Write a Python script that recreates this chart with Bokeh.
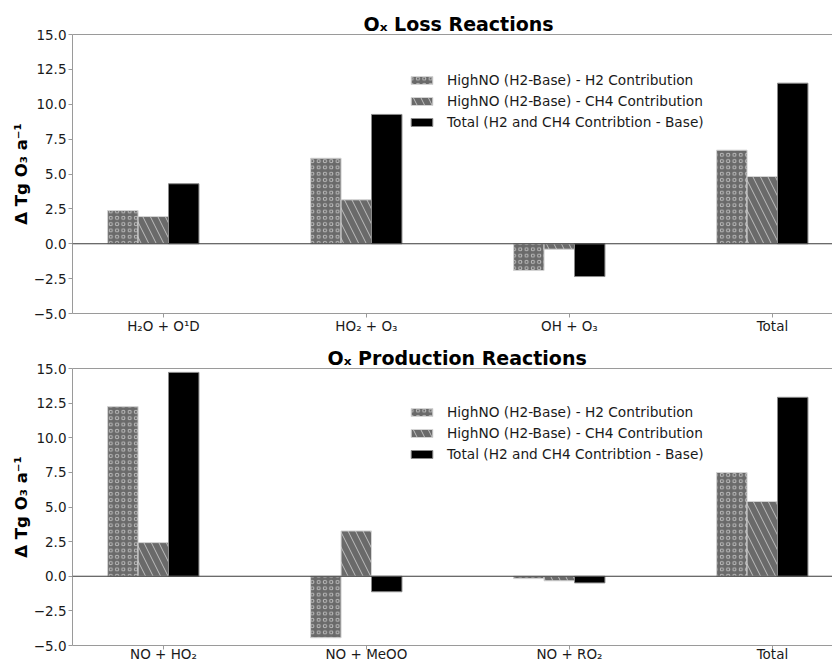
from bokeh.plotting import figure
from bokeh.layouts import column
from bokeh.models import FixedTicker, LinearAxis, Range1d, Span, Legend, LegendItem
from bokeh.embed import file_html
from bokeh.resources import INLINE

# ---- data (Tg O3 per year) ----
loss_reactions = ["H₂O + O¹D", "HO₂ + O₃", "OH + O₃", "Total"]
loss_h2 = [2.38, 6.13, -1.92, 6.71]
loss_ch4 = [1.95, 3.15, -0.39, 4.82]
loss_total = [4.30, 9.27, -2.35, 11.51]

prod_reactions = ["NO + HO₂", "NO + MeOO", "NO + RO₂", "Total"]
prod_h2 = [12.25, -4.44, -0.17, 7.49]
prod_ch4 = [2.43, 3.27, -0.33, 5.40]
prod_total = [14.72, -1.12, -0.48, 12.92]

series_labels = [
    "HighNO (H2-Base) - H2 Contribution",
    "HighNO (H2-Base) - CH4 Contribution",
    "Total (H2 and CH4 Contribtion - Base)",
]

y_ticks = [-5, -2.5, 0, 2.5, 5, 7.5, 10, 12.5, 15]
y_tick_labels = ["−5.0", "−2.5", "0.0", "2.5", "5.0", "7.5", "10.0", "12.5", "15.0"]

FONT = "DejaVu Sans"
SPINE = "#9a9a9a"
TEXT = "#1a1a1a"
BAR_FILL = "#6a6a6a"
BAR_W = 0.15
OFFSETS = [-0.2, -0.05, 0.1]
Y_MIN, Y_MAX = -5, 15


def make_panel(title, title_offset, reactions, h2, ch4, total, height, top_border,
               bottom_border, label_standoff):
    p = figure(
        width=832, height=height,
        x_range=Range1d(-0.448, 3.296), y_range=Range1d(Y_MIN, Y_MAX),
        output_backend="svg", toolbar_location=None,
        min_border_left=72, min_border_right=0,
        min_border_top=top_border, min_border_bottom=bottom_border,
        outline_line_color=None,
    )
    p.xgrid.visible = False
    p.ygrid.visible = False

    p.title.text = title
    p.title.text_font = FONT
    p.title.text_font_size = "19px"
    p.title.text_font_style = "bold"
    p.title.text_color = "black"
    p.title.align = "left"
    p.title.offset = title_offset
    p.title.standoff = 0

    idx = list(range(len(reactions)))
    xs = [[i + off for i in idx] for off in OFFSETS]

    r_h2 = p.vbar(x=xs[0], top=h2, bottom=0, width=BAR_W,
                  fill_color=BAR_FILL, line_color="#d4d4d4", line_width=1,
                  hatch_pattern="o", hatch_color="#bdbdbd", hatch_scale=6.3, hatch_weight=1)
    r_ch4 = p.vbar(x=xs[1], top=ch4, bottom=0, width=BAR_W,
                   fill_color=BAR_FILL, line_color="#d4d4d4", line_width=1,
                   hatch_pattern="\\", hatch_color="#bdbdbd", hatch_scale=15, hatch_weight=1)
    r_tot = p.vbar(x=xs[2], top=total, bottom=0, width=BAR_W,
                   fill_color="black", line_color="#8a8a8a", line_width=1)

    p.add_layout(Span(location=0, dimension="width", line_color="#3a3a3a", line_width=1.2))

    # x axis with the reaction names
    xa = p.xaxis[0]
    xa.ticker = FixedTicker(ticks=idx)
    xa.major_label_overrides = {i: lab for i, lab in zip(idx, reactions)}
    xa.minor_tick_line_color = None
    xa.major_tick_out = 4
    xa.major_tick_in = 0
    xa.major_label_standoff = label_standoff
    xa.axis_line_color = SPINE
    xa.major_tick_line_color = SPINE
    xa.major_label_text_font = FONT
    xa.major_label_text_font_size = "13.5px"
    xa.major_label_text_color = TEXT

    # y axis
    ya = p.yaxis[0]
    ya.ticker = FixedTicker(ticks=y_ticks)
    ya.major_label_overrides = {t: lab for t, lab in zip(y_ticks, y_tick_labels)}
    ya.minor_tick_line_color = None
    ya.major_tick_out = 4
    ya.major_tick_in = 0
    ya.major_label_standoff = 2
    ya.axis_line_color = SPINE
    ya.major_tick_line_color = SPINE
    ya.major_label_text_font = FONT
    ya.major_label_text_font_size = "13.5px"
    ya.major_label_text_color = TEXT
    ya.axis_label = "Δ Tg O₃ a⁻¹"
    ya.axis_label_text_font = FONT
    ya.axis_label_text_font_size = "16.5px"
    ya.axis_label_text_font_style = "bold"
    ya.axis_label_text_color = "black"
    ya.axis_label_standoff = 0

    # top spine
    top = LinearAxis(ticker=FixedTicker(ticks=[]), axis_line_color=SPINE,
                     major_tick_line_color=None, minor_tick_line_color=None)
    p.add_layout(top, "above")

    legend = Legend(
        items=[LegendItem(label=series_labels[0], renderers=[r_h2]),
               LegendItem(label=series_labels[1], renderers=[r_ch4]),
               LegendItem(label=series_labels[2], renderers=[r_tot])],
        location=(336, 182), padding=0, margin=0,
        border_line_color=None, background_fill_alpha=0,
        glyph_width=27, glyph_height=10, label_height=18, spacing=3,
        label_standoff=12, label_text_font=FONT, label_text_font_size="13.7px",
        label_text_color=TEXT,
    )
    p.add_layout(legend)
    return p


p_loss = make_panel("Oₓ Loss Reactions", 291, loss_reactions, loss_h2, loss_ch4, loss_total,
                    height=339, top_border=34, bottom_border=26, label_standoff=0)
p_prod = make_panel("Oₓ Production Reactions", 255, prod_reactions, prod_h2, prod_ch4, prod_total,
                    height=325, top_border=29, bottom_border=17, label_standoff=-4)

layout = column(p_loss, p_prod, spacing=0)
open("out.html", "w").write(file_html(layout, INLINE))
